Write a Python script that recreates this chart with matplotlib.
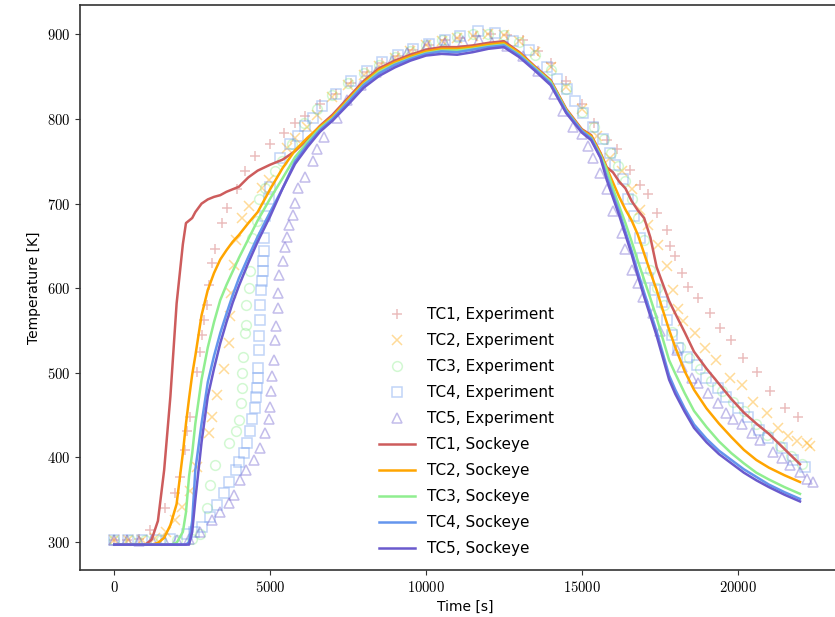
import numpy as np
import matplotlib
matplotlib.use("Agg")
import matplotlib.pyplot as plt
from matplotlib.ticker import FuncFormatter

plt.rcParams['mathtext.fontset'] = 'cm'
plt.rcParams['font.family'] = ['DejaVu Sans']

# ---- experiment (markers) ----
t_exp1 = [0, 400, 800, 1160, 1640, 1960, 2120, 2280, 2340, 2440, 2660, 2760, 2820, 2890, 2960, 3030,
          3140, 3240, 3460, 3620, 3940, 4200, 4530, 5010, 5430, 5810, 6130, 6600, 7100, 7600, 8100,
          8600, 9100, 9600, 10100, 10600, 11100, 11600, 12100, 12600, 13100, 13600, 14000, 14500,
          15000, 15400, 15800, 16120, 16550, 16870, 17130, 17400, 17720, 17830, 17990, 18200, 18410,
          18730, 19110, 19430, 19800, 20180, 20610, 21030, 21510, 21940]
T_exp1 = [302, 303, 304, 314, 340, 358, 377, 409, 431, 448, 501, 525, 545, 563, 580, 604,
          630, 646, 677, 695, 717, 738, 756, 770, 784, 795, 803, 818, 830, 843, 855,
          866, 875, 882, 888, 893, 896, 898, 900, 899, 893, 881, 866, 845,
          818, 795, 775, 764, 740, 722, 711, 689, 669, 650, 638, 618, 602,
          588, 571, 553, 539, 517, 501, 478, 458, 448]

t_exp2 = [0, 450, 900, 1300, 1650, 1960, 2180, 2440, 2660, 3030, 3140, 3300, 3510, 3670, 3700, 3740,
          3830, 3890, 4100, 4310, 4740, 4950, 5540, 5810, 6180, 6500, 7000, 7500, 8000, 8500, 9000,
          9500, 10000, 10500, 11000, 11500, 12000, 12500, 13000, 13500, 14000, 14500, 15000, 15500,
          15900, 16280, 16600, 16870, 17130, 17450, 17720, 17930, 18090, 18250, 18630, 18950, 19320,
          19750, 20130, 20500, 20930, 21300, 21620, 21890, 22210, 22320]
T_exp2 = [302, 303, 302, 305, 312, 326, 342, 360, 389, 429, 448, 474, 504, 535, 567, 594,
          628, 657, 683, 697, 719, 728, 766, 778, 790, 805, 826, 840, 852, 863, 872,
          880, 887, 892, 896, 898, 900, 899, 892, 879, 861, 838, 812, 780,
          754, 738, 717, 693, 675, 651, 626, 598, 575, 561, 547, 529, 515,
          494, 486, 466, 452, 435, 425, 419, 417, 413]

t_exp3 = [0, 500, 1000, 1500, 2000, 2500, 2750, 2980, 3080, 3220, 3670, 3890, 3990, 4060, 4090, 4110,
          4130, 4200, 4220, 4240, 4310, 4370, 4420, 4580, 4630, 4850, 5170, 5380, 5700, 6100, 6500,
          7000, 7500, 8000, 8500, 9000, 9500, 10000, 10500, 11000, 11500, 12000, 12500, 13000, 13500,
          14000, 14500, 15000, 15400, 15700, 15950, 16150, 16400, 16600, 16800, 17000, 17200, 17400,
          17650, 17900, 18150, 18450, 18800, 19150, 19500, 19850, 20200, 20600, 20950, 21350, 21700,
          22050]
T_exp3 = [303, 302, 303, 302, 303, 304, 310, 340, 367, 391, 417, 431, 444, 464, 482, 500,
          519, 547, 557, 580, 600, 620, 659, 679, 705, 719, 738, 750, 770, 795, 812,
          828, 842, 854, 864, 873, 881, 888, 893, 897, 900, 901, 899, 891, 876,
          858, 835, 808, 790, 776, 760, 745, 727, 705, 683, 657, 622, 600,
          580, 548, 530, 517, 505, 490, 478, 466, 455, 440, 427, 414, 402,
          392]

t_exp4 = [0, 450, 900, 1350, 1800, 2340, 2550, 2800, 3080, 3300, 3510, 3670, 3890, 3990, 4150, 4260,
          4370, 4420, 4530, 4560, 4580, 4600, 4620, 4630, 4655, 4670, 4690, 4720, 4745, 4770, 4780,
          4795, 4805, 4830, 4950, 5010, 5330, 5650, 5910, 6130, 6390, 6660, 7100, 7600, 8100, 8600,
          9100, 9600, 10100, 10600, 11100, 11680, 12220, 12800, 13290, 13880, 14200, 14520, 14780,
          15050, 15370, 15690, 15900, 16060, 16330, 16490, 16670, 16870, 16920, 17130, 17350, 17560,
          17720, 17880, 18090, 18360, 18680, 19000, 19380, 19640, 20020, 20340, 20690, 20980, 21410,
          21780, 22150]
T_exp4 = [303, 302, 303, 302, 304, 310, 312, 318, 330, 344, 358, 371, 385, 395, 405, 417,
          431, 446, 458, 472, 482, 494, 506, 527, 544, 563, 580, 598, 608, 620, 632,
          644, 659, 685, 705, 720, 754, 770, 780, 792, 801, 815, 830, 845, 857, 867,
          876, 883, 889, 894, 898, 904, 902, 892, 882, 861, 847, 835, 821,
          807, 791, 776, 760, 746, 729, 705, 685, 659, 636, 612, 598, 584,
          563, 545, 529, 519, 509, 494, 482, 472, 458, 448, 433, 423, 411,
          397, 389]

t_exp5 = [0, 400, 800, 1200, 1600, 2000, 2400, 2760, 3140, 3400, 3670, 3830, 4020, 4240, 4490, 4660,
          4850, 4950, 4990, 5030, 5060, 5110, 5170, 5190, 5240, 5260, 5270, 5410, 5490, 5540, 5590,
          5730, 5810, 5910, 6130, 6390, 6500, 6720, 7140, 7460, 7900, 8400, 8900, 9400, 10030, 10600,
          11200, 11700, 12110, 12600, 13100, 13600, 14100, 14400, 14730, 15000, 15210, 15370, 15580,
          15800, 16010, 16280, 16380, 16600, 16810, 16970, 17290, 17500, 18040, 18200, 18520, 18730,
          19060, 19380, 19640, 19860, 20130, 20450, 20710, 21140, 21410, 21670, 21990, 22210, 22420]
T_exp5 = [303, 302, 301, 302, 303, 302, 304, 312, 326, 336, 346, 356, 373, 385, 397, 411,
          429, 446, 460, 478, 496, 515, 539, 555, 577, 594, 616, 632, 649, 661, 675,
          687, 701, 719, 732, 750, 764, 779, 801, 823, 840, 856, 868, 878, 888, 890,
          892, 893, 890, 886, 875, 857, 830, 810, 790, 782, 768, 754, 736,
          717, 691, 665, 646, 622, 606, 590, 571, 549, 527, 507, 494, 488,
          476, 464, 452, 446, 440, 429, 421, 407, 399, 391, 383, 375, 371]

# ---- Sockeye (lines) ----
t_sim = [0, 1000, 1200, 1400, 1600, 1800, 2000, 2200, 2300, 2400,
         2500, 2600, 2800, 3000, 3200, 3400, 3600, 3800, 4000, 4300,
         4600, 5000, 5400, 5800, 6200, 6600, 7000, 7500, 8000, 8500,
         9000, 9500, 10000, 10500, 11000, 11500, 12000, 12500, 13000, 13500,
         14000, 14500, 15000, 15300, 15600, 15800, 16000, 16200, 16400, 16600,
         16800, 17000, 17200, 17400, 17600, 17800, 18000, 18300, 18600, 19000,
         19400, 19800, 20200, 20600, 21000, 21500, 22000]
T_sim1 = [297, 297, 303, 325, 385, 472, 582, 652, 677, 680,
          683, 690, 700, 705, 708, 710, 714, 717, 720, 731,
          739, 746, 752, 762, 776, 792, 805, 825, 845, 860,
          869, 876, 882, 885, 885, 887, 890, 892, 879, 862,
          846, 812, 788, 781, 760, 743, 737, 726, 718, 703,
          692, 683, 660, 625, 605, 585, 570, 548, 525, 505,
          487, 469, 453, 440, 428, 410, 392]
T_sim2 = [297, 297, 297, 299, 305, 320, 345, 405, 440, 470,
          498, 520, 568, 598, 618, 634, 645, 655, 663, 677,
          690, 717, 742, 763, 778, 791, 803, 823, 843, 858,
          867, 874, 880, 883, 883, 885, 888, 890, 878, 861,
          845, 811, 787, 780, 759, 742, 725, 708, 693, 680,
          663, 641, 619, 598, 574, 551, 530, 502, 480, 458,
          440, 424, 409, 397, 388, 379, 371]
T_sim3 = [297, 297, 297, 297, 297, 297, 299, 312, 335, 378,
          405, 440, 492, 530, 560, 586, 604, 620, 636, 658,
          680, 706, 730, 755, 773, 789, 801, 821, 841, 856,
          865, 872, 878, 881, 881, 883, 886, 888, 876, 860,
          844, 810, 786, 778, 757, 740, 718, 697, 677, 655,
          632, 610, 588, 565, 540, 515, 499, 476, 455, 436,
          419, 405, 393, 382, 374, 365, 357]
T_sim4 = [297, 297, 297, 297, 297, 297, 297, 297, 297, 300,
          325, 385, 440, 489, 520, 547, 570, 592, 612, 637,
          661, 690, 718, 750, 770, 787, 800, 820, 840, 854,
          864, 871, 877, 880, 879, 882, 885, 887, 875, 859,
          842, 809, 786, 777, 755, 732, 711, 690, 667, 644,
          619, 595, 572, 549, 523, 497, 480, 458, 439, 422,
          408, 397, 386, 377, 368, 359, 351]
T_sim5 = [297, 297, 297, 297, 297, 297, 297, 297, 297, 297,
          312, 350, 418, 472, 505, 535, 560, 583, 603, 630,
          655, 685, 718, 747, 767, 785, 798, 817, 837, 851,
          861, 869, 875, 877, 876, 879, 883, 885, 873, 857,
          840, 807, 784, 775, 754, 728, 707, 686, 663, 640,
          614, 590, 567, 544, 518, 492, 475, 454, 435, 418,
          404, 393, 382, 373, 365, 356, 348]

names = ["TC1", "TC2", "TC3", "TC4", "TC5"]
colors = ["indianred", "orange", "lightgreen", "cornflowerblue", "slateblue"]
markers = ["+", "x", "o", "s", "^"]
t_exp = [t_exp1, t_exp2, t_exp3, t_exp4, t_exp5]
T_exp = [T_exp1, T_exp2, T_exp3, T_exp4, T_exp5]
T_sim = [T_sim1, T_sim2, T_sim3, T_sim4, T_sim5]

fig = plt.figure(figsize=(8.35, 6.17), dpi=100)
ax = fig.add_axes([0.0958, 0.0762, 0.922, 0.916])

for name, c, m, tt, TT in zip(names, colors, markers, t_exp, T_exp):
    if m in ("+", "x"):
        ax.plot(tt, TT, ls="none", marker=m, color=c, alpha=0.4, ms=7, mew=1.1,
                label=name + ", Experiment")
    else:
        ax.plot(tt, TT, ls="none", marker=m, mfc="none", mec=c, alpha=0.4, ms=7, mew=1.1,
                label=name + ", Experiment")

for name, c, TT in zip(names, colors, T_sim):
    ax.plot(t_sim, TT, color=c, lw=1.8, label=name + ", Sockeye")

ax.set_xlim(-1100, 23600)
ax.set_ylim(267, 935)
ax.set_xticks([0, 5000, 10000, 15000, 20000])
ax.set_yticks([300, 400, 500, 600, 700, 800, 900])
fmt = FuncFormatter(lambda v, p: r"$%d$" % v)
ax.xaxis.set_major_formatter(fmt)
ax.yaxis.set_major_formatter(fmt)
ax.tick_params(labelsize=10.5, color="#333333")
for s in ax.spines.values():
    s.set_color("#333333")
    s.set_linewidth(1.2)
ax.set_xlabel("Time [s]", fontsize=10)
ax.set_ylabel("Temperature [K]", fontsize=10)

ax.legend(loc="lower left", bbox_to_anchor=(0.37, 0.0), frameon=False, fontsize=11,
          handlelength=2.4, labelspacing=0.72)

fig.savefig("out.png", dpi=100)
